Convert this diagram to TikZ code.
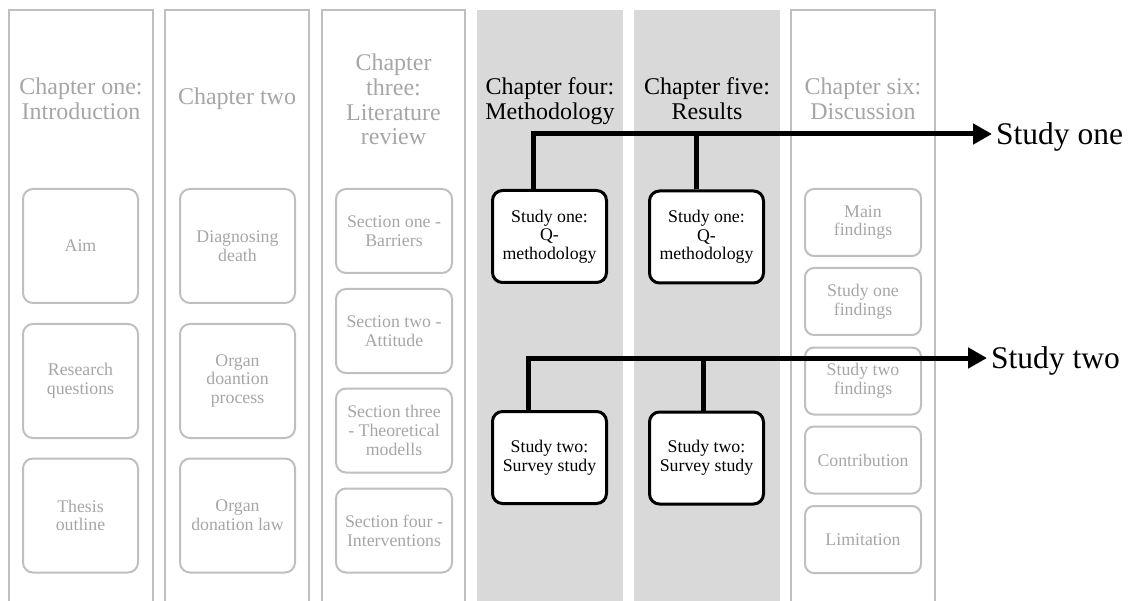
\documentclass[tikz,border=0pt]{standalone}
\usepackage{fontspec}
\setmainfont{Liberation Serif}
\usetikzlibrary{arrows.meta,calc}
\definecolor{frameGray}{RGB}{191,191,191}
\definecolor{textGray}{RGB}{166,166,166}
\definecolor{bandGray}{RGB}{217,217,217}
\begin{document}
\begin{tikzpicture}[x=1pt,y=-1pt,
  colframe/.style={draw=frameGray,line width=2pt},
  band/.style={fill=bandGray,draw=none},
  graybox/.style={draw=frameGray,line width=2pt,rounded corners=10pt,text=textGray,
    align=center,font=\fontsize{17.8}{18.8}\selectfont,inner sep=0pt},
  bigbox/.style={graybox,minimum width=115pt,minimum height=114pt},
  midbox/.style={graybox,minimum width=116pt,minimum height=84pt},
  smallbox/.style={graybox,rounded corners=9pt,minimum width=116pt,minimum height=67pt},
  blackbox/.style={draw=black,fill=white,line width=3pt,rounded corners=10pt,align=center,
    font=\fontsize{17.8}{18.6}\selectfont,minimum width=114pt,minimum height=92pt,inner sep=0pt},
  title/.style={align=center,font=\fontsize{24}{24.8}\selectfont,inner sep=0pt},
  conn/.style={line width=5pt},
  sidelabel/.style={anchor=west,inner xsep=4pt,inner ysep=0pt,text height=20.5pt,
    text depth=0pt,font=\fontsize{31.5}{34}\selectfont}]

\useasboundingbox (0,0) rectangle (1129,601);

% shaded bands for chapters four and five
\fill[band] (477,10) rectangle (623,601);
\fill[band] (634,10) rectangle (780,601);

% open column frames
\draw[colframe] (9,601) -- (9,10) -- (153,10) -- (153,601);
\draw[colframe] (165,601) -- (165,10) -- (309,10) -- (309,601);
\draw[colframe] (322,601) -- (322,10) -- (465,10) -- (465,601);
\draw[colframe] (791,601) -- (791,10) -- (935,10) -- (935,601);

% chapter titles
\node[title,text=textGray] (t1) at (81,99) {Chapter one:\\Introduction};
\node[title,text=textGray] (t2) at (237,99) {Chapter two};
\node[title,text=textGray] (t3) at (393.5,99.5) {Chapter\\three:\\Literature\\review};
\node[title] (t4) at (550,101) {Chapter four:\\Methodology};
\node[title] (t5) at (707,99) {Chapter five:\\Results};
\node[title,text=textGray] (t6) at (863,99) {Chapter six:\\Discussion};

% chapter one
\node[bigbox] (a1) at (80.5,246) {Aim};
\node[bigbox] (a2) at (80.5,381) {Research\\questions};
\node[bigbox] (a3) at (80.5,515.5) {Thesis\\outline};

% chapter two
\node[bigbox] (b1) at (237.5,246) {Diagnosing\\death};
\node[bigbox] (b2) at (237.5,381) {Organ\\doantion\\process};
\node[bigbox] (b3) at (237.5,515.5) {Organ\\donation law};

% chapter three
\node[midbox] (s1) at (394,231) {Section one -\\Barriers};
\node[midbox] (s2) at (394,331) {Section two -\\Attitude};
\node[midbox] (s3) at (394,430.5) {Section three\\- Theoretical\\modells};
\node[midbox] (s4) at (394,530.5) {Section four -\\Interventions};

% chapter six
\node[smallbox] (d1) at (863,222.5) {Main\\findings};
\node[smallbox] (d2) at (863,301.5) {Study one\\findings};
\node[smallbox] (d3) at (863,381) {Study two\\findings};
\node[smallbox] (d4) at (863,460) {Contribution};
\node[smallbox] (d5) at (863,539.5) {Limitation};

% studies in chapters four and five
\node[blackbox] (m1) at (549.5,236.5) {Study one:\\Q-\\methodology};
\node[blackbox] (m2) at (549.5,457.5) {Study two:\\Survey study};
\node[blackbox] (r1) at (706.5,237) {Study one:\\Q-\\methodology};
\node[blackbox] (r2) at (706.5,458) {Study two:\\Survey study};

% study labels
\node[sidelabel] (l1) at (992,134) {Study one};
\node[sidelabel] (l2) at (987,358) {Study two};

% study threads
\draw[conn,-{Triangle[length=19pt,width=20pt]}] ($(m1.north)+(-16.5,0)$) |- (l1.west);
\draw[conn] ($(r1.north)+(-10.5,0)$) -- ($(l1.west -| r1.north)+(-10.5,0)$);
\draw[conn,-{Triangle[length=19pt,width=20pt]}] ($(m2.north)+(-21.5,0)$) |- (l2.west);
\draw[conn] ($(r2.north)+(-3.5,0)$) -- ($(l2.west -| r2.north)+(-3.5,0)$);
\end{tikzpicture}
\end{document}
